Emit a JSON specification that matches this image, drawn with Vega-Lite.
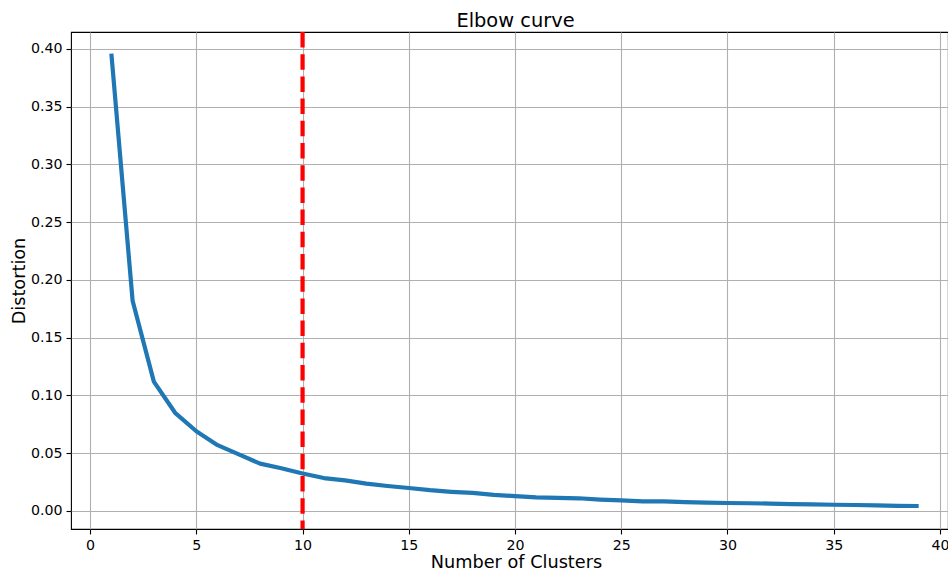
{
  "$schema": "https://vega.github.io/schema/vega-lite/v6.json",
  "width": 877,
  "height": 497,
  "autosize": {"type": "none"},
  "padding": {"left": 71, "top": 32, "right": 0, "bottom": 43},
  "background": "white",
  "config": {
    "font": "DejaVu Sans",
    "view": {"stroke": "black", "strokeWidth": 1.1},
    "axis": {
      "labelFont": "DejaVu Sans",
      "titleFont": "DejaVu Sans",
      "labelFontSize": 14.2,
      "labelColor": "black",
      "titleFontSize": 17.7,
      "titleFontWeight": "normal",
      "titleColor": "black",
      "tickColor": "black",
      "tickSize": 5,
      "tickWidth": 1.1,
      "labelPadding": 4,
      "domain": false,
      "grid": true,
      "gridColor": "#b0b0b0",
      "gridWidth": 1.1
    }
  },
  "title": {
    "text": "Elbow curve",
    "font": "DejaVu Sans",
    "fontSize": 19.4,
    "fontWeight": "normal",
    "color": "black",
    "anchor": "middle",
    "baseline": "bottom",
    "offset": 0,
    "dx": 6,
    "dy": 20
  },
  "layer": [
    {
      "data": {
        "values": [
          {"k": 1, "d": 0.396},
          {"k": 2, "d": 0.182},
          {"k": 3, "d": 0.112},
          {"k": 4, "d": 0.085},
          {"k": 5, "d": 0.069},
          {"k": 6, "d": 0.057},
          {"k": 7, "d": 0.049},
          {"k": 8, "d": 0.041},
          {"k": 9, "d": 0.037},
          {"k": 10, "d": 0.0325},
          {"k": 11, "d": 0.0285},
          {"k": 12, "d": 0.0265},
          {"k": 13, "d": 0.0237},
          {"k": 14, "d": 0.0216},
          {"k": 15, "d": 0.0199},
          {"k": 16, "d": 0.018},
          {"k": 17, "d": 0.0166},
          {"k": 18, "d": 0.0156},
          {"k": 19, "d": 0.014},
          {"k": 20, "d": 0.0129},
          {"k": 21, "d": 0.0118},
          {"k": 22, "d": 0.0113},
          {"k": 23, "d": 0.011},
          {"k": 24, "d": 0.0099},
          {"k": 25, "d": 0.0091},
          {"k": 26, "d": 0.0084},
          {"k": 27, "d": 0.0083},
          {"k": 28, "d": 0.0076},
          {"k": 29, "d": 0.0073},
          {"k": 30, "d": 0.0069},
          {"k": 31, "d": 0.0067},
          {"k": 32, "d": 0.0064},
          {"k": 33, "d": 0.006},
          {"k": 34, "d": 0.0058},
          {"k": 35, "d": 0.0054},
          {"k": 36, "d": 0.0052},
          {"k": 37, "d": 0.0049},
          {"k": 38, "d": 0.0044},
          {"k": 39, "d": 0.0043}
        ]
      },
      "mark": {"type": "line", "color": "#1f77b4", "strokeWidth": 4.2, "strokeJoin": "round", "clip": true},
      "encoding": {
        "x": {
          "field": "k",
          "type": "quantitative",
          "title": "Number of Clusters",
          "scale": {"domain": [-0.9, 40.38], "nice": false, "zero": false},
          "axis": {"values": [0, 5, 10, 15, 20, 25, 30, 35, 40], "format": "d", "titleX": 445, "titleY": 33, "titleBaseline": "middle", "titleAnchor": null}
        },
        "y": {
          "field": "d",
          "type": "quantitative",
          "title": "Distortion",
          "scale": {"domain": [-0.0156, 0.4147], "nice": false, "zero": false},
          "axis": {"values": [0, 0.05, 0.1, 0.15, 0.2, 0.25, 0.3, 0.35, 0.4], "format": ".2f", "titleX": -52, "titleBaseline": "middle"}
        }
      }
    },
    {
      "data": {"values": [{"k": 10}]},
      "mark": {"type": "rule", "color": "#ff0000", "strokeWidth": 4.2, "strokeDash": [15.5, 6.7]},
      "encoding": {
        "x": {"field": "k", "type": "quantitative"}
      }
    }
  ]
}
